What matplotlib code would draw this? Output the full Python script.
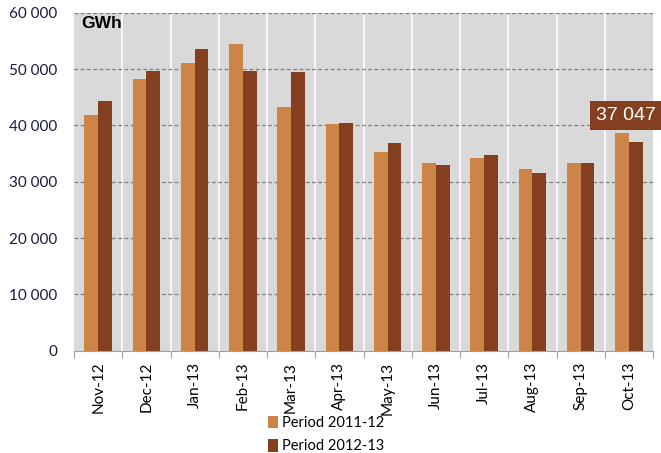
import matplotlib
matplotlib.use("Agg")
import matplotlib.pyplot as plt
from matplotlib.ticker import FuncFormatter, MultipleLocator
import numpy as np

months = ["Nov-12", "Dec-12", "Jan-13", "Feb-13", "Mar-13", "Apr-13",
          "May-13", "Jun-13", "Jul-13", "Aug-13", "Sep-13", "Oct-13"]
period_2011_12 = [41800, 48200, 51100, 54450, 43200, 40200,
                  35200, 33250, 34200, 32250, 33250, 38650]
period_2012_13 = [44300, 49600, 53550, 49600, 49400, 40350,
                  36800, 33000, 34750, 31600, 33250, 37047]
series_names = ["Period 2011-12", "Period 2012-13"]
unit_label = "GWh"

c_light = "#CC8447"
c_dark = "#833F20"

plt.rcParams['font.family'] = ['Lato', 'DejaVu Sans']

fig = plt.figure(figsize=(6.61, 4.53), dpi=100)
W, H = 661, 453
ax = fig.add_axes([74 / W, 1 - 350.7 / H, (653 - 74) / W, (350.7 - 12.7) / H])
ax.set_facecolor("#D9D9D9")

x = np.arange(len(months))
bw = 0.287
b1 = ax.bar(x - bw / 2, period_2011_12, bw, color=c_light, label=series_names[0], zorder=3)
b2 = ax.bar(x + bw / 2, period_2012_13, bw, color=c_dark, label=series_names[1], zorder=3)

ax.set_xlim(-0.5, len(months) - 0.5)
ax.set_ylim(0, 60000)

ax.yaxis.set_major_locator(MultipleLocator(10000))
ax.yaxis.set_major_formatter(FuncFormatter(lambda v, p: f"{int(v):,}".replace(",", " ")))
ax.tick_params(axis='y', length=0, labelsize=11, labelcolor="#1A1A40", pad=12)

# category boundaries: ticks and vertical white gridlines
bounds = np.arange(len(months) + 1) - 0.5
ax.set_xticks(bounds)
ax.set_xticklabels([])
ax.set_xticks(x, minor=True)
ax.set_xticklabels(months, minor=True, rotation=90, fontsize=11, color="#000000")
ax.tick_params(axis='x', which='major', length=5, color="#A0A0A0", direction='out')
ax.tick_params(axis='x', which='minor', length=0, pad=8)

for b in bounds[1:-1]:
    ax.axvline(b, color="white", lw=1.2, zorder=1)
for yv in range(10000, 60001, 10000):
    ax.axhline(yv, color="#808080", lw=0.9, ls=(0, (3, 2)), zorder=2)

for s in ["top", "right", "left"]:
    ax.spines[s].set_visible(False)
ax.spines["bottom"].set_color("#A0A0A0")

ax.text(81 / W, 1 - 24 / H, unit_label, transform=fig.transFigure, fontsize=12.5,
        fontweight="bold", va="center", ha="left", family=["Liberation Sans", "DejaVu Sans"])

last = len(months) - 1
ax.annotate(f"{period_2012_13[last]:,}".replace(",", " "),
            xy=(last + bw / 2, period_2012_13[last]), xytext=(-7, 19),
            textcoords="offset points", ha="center", va="center",
            fontsize=14, color="white", family=["Liberation Sans", "DejaVu Sans"],
            bbox=dict(boxstyle="square,pad=0.3", fc=c_dark, ec="none"),
            annotation_clip=False, zorder=5)

leg = fig.legend(handles=[b1, b2], labels=series_names, loc="upper left",
                 bbox_to_anchor=(262 / W, 1 - 410 / H), ncol=1, frameon=False,
                 fontsize=10.5, handlelength=0.7, handleheight=0.9, handletextpad=0.3,
                 labelspacing=0.65, borderaxespad=0)

fig.savefig("out.png", dpi=100)
